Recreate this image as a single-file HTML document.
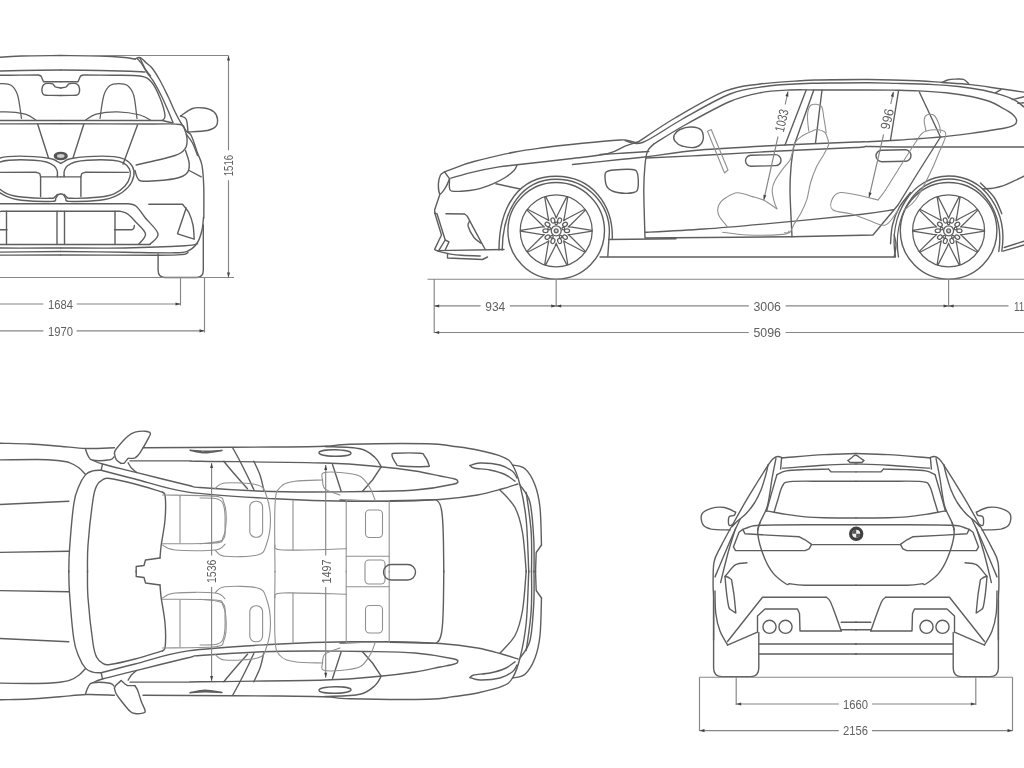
<!DOCTYPE html>
<html><head><meta charset="utf-8"><title>Dimensions</title>
<style>
html,body{margin:0;padding:0;background:#fff}
body{width:1024px;height:768px;overflow:hidden}
svg{display:block;filter:blur(0.4px)}
svg path,svg circle,svg ellipse,svg rect{fill:none;stroke:#5e5e5e;stroke-width:1.4;stroke-linecap:round;stroke-linejoin:round}
svg .w{stroke-width:1.25}
svg .i{stroke:#909090;stroke-width:1.1}
svg .d path{stroke:#868686;stroke-width:1.15;stroke-linecap:butt}
svg .a path{fill:#444;stroke:none}
svg .f{fill:#333;stroke:#333}
svg text{font-family:"Liberation Sans",sans-serif;font-size:13.5px;fill:#606060;text-anchor:middle}
</style></head><body>
<svg width="1024" height="768" viewBox="0 0 1024 768">
<g id="front"><g><path d="M60.8,55.5 C67.3,55.6 89.3,55.7 100,56 C110.7,56.3 119.2,57 125,57.5 C130.8,58 133.3,59 135,59.2"/><path d="M135,59.2 C135.6,59 137.6,57.6 138.8,57.5 C139.9,57.4 140.8,57.9 142,58.8 C143.2,59.6 144.1,61 145.8,62.5 C147.4,64 149.6,65 152,68 C154.4,71 157.2,75.5 160,80.5 C162.8,85.5 166.2,92.8 168.8,98 C171.2,103.2 173,107.7 175,111.8 C177,115.8 178.6,119 180.5,122.2 C182.4,125.5 184.5,128.8 186.2,131 C188,133.2 189.4,131.8 191.2,135.5 C193.1,139.2 195.7,148 197.5,153 C199.3,158 201,159.7 202,165.5 C203,171.3 203.5,179.2 203.8,188 C204,196.8 203.8,213 203.8,218"/><path d="M137.5,58.8 C138.2,59.7 140.4,62 142,64.2 C143.6,66.5 145,69.6 147,72.5 C149,75.4 151.4,77.9 153.8,81.8 C156.1,85.6 159,90.9 161.2,95.5 C163.5,100.1 165.5,104.8 167.5,109.2 C169.5,113.8 172.1,120.3 173,122.5"/><path d="M140,58 C140.8,59.8 143.2,65.5 145,68.5 C146.8,71.5 149.6,74.8 150.5,76"/><path d="M60.8,70 C67.3,70.1 88.5,70.3 100,70.5 C111.5,70.7 122.5,71 130,71.2 C137.5,71.5 142.5,71.9 145,72"/><path d="M60.8,81.8 L78,81.8 L80.5,76 L83,75 C87.9,75 103,75.1 112.5,75.2 C122,75.4 133.5,74.9 140,76 C146.5,77.1 147.9,78.1 151.2,81.8 C154.6,85.4 157.7,92.4 160,98 C162.3,103.6 164.6,111.8 165,115.5 C165.4,119.2 162.9,119.7 162.5,120.5"/><path d="M60.8,120.5 L162.5,120.5 L172.5,123"/><path d="M60.8,123.8 C75.6,123.8 130.1,123.9 150,124 C169.9,124.1 174.2,123.4 180,124.5 C185.8,125.6 183.8,128.2 185,130.5 C186.2,132.8 186.9,135.6 187,138.5 C187.1,141.4 187.5,145.2 185.5,148 C183.5,150.8 183.2,152.7 175,155.5 C166.8,158.3 142.7,163.4 136.2,165"/><path d="M60.8,88 C61.7,87.8 64.9,87.4 66.2,86.8 C67.6,86.1 67.7,84.5 68.8,83.9 C69.8,83.3 71.2,83.4 72.5,83.4 C73.8,83.4 75.2,83.2 76.2,83.7 C77.3,84.2 78.2,84.8 78.8,86.1 C79.3,87.4 79.7,90 79.5,91.5 C79.3,93 79.1,94.2 77.5,94.9 C75.9,95.6 72.8,95.3 70,95.4 C67.2,95.5 62.3,95.5 60.8,95.5"/><path d="M100,118.5 C100.6,114.7 102.1,101 103.8,95.5 C105.4,90 107.5,87.5 110,85.5 C112.5,83.5 115.8,83.5 118.8,83.5 C121.7,83.5 125,83.5 127.5,85.5 C130,87.5 132.2,90 133.8,95.5 C135.3,101 136.5,114.7 137,118.5" class="w"/><path d="M85,120.5 C86.9,119.5 90.8,115.7 96.2,114.2 C101.7,112.8 110.2,111.6 117.5,111.8 C124.8,111.9 134.4,113.5 140,115 C145.6,116.5 149.4,119.6 151.2,120.5" class="w"/><path d="M83.8,124.2 L73,158"/><path d="M137.5,125 L123,164.2"/><path d="M60.9,163.4 C61.5,163.1 62.5,162.3 64.1,161.6 C65.6,160.8 66.4,159.6 70.3,158.8 C74.2,157.9 80.2,156.9 87.5,156.6 C94.8,156.2 107.8,156.1 114.1,156.6 C120.3,157.1 121.9,157.9 125,159.5 C128.1,161.2 131,163.8 132.5,166.6 C134,169.3 134.4,172.6 133.8,175.9 C133.1,179.3 131.5,183.5 128.4,186.9 C125.4,190.3 120.4,194 115.6,196.2 C110.9,198.5 107.7,199.3 100,200.2 C92.3,201 75.3,201.7 69.5,201.4 C63.8,201.1 66.7,199.2 65.6,198.1 C64.6,197 64.1,195.4 63.3,194.7 C62.5,194 61.3,194 60.9,193.9"/><path d="M64.1,175.6 C64.1,174.8 63.8,172.1 64.4,170.5 C64.9,168.8 65.7,167.2 67.5,165.8 C69.3,164.4 71.7,163 75,162 C78.3,161.1 81.2,160.5 87.5,160.2 C93.8,159.8 106.5,159.7 112.5,160.2 C118.5,160.6 120.6,161.4 123.4,162.8 C126.2,164.3 128.3,166.6 129.4,168.9 C130.5,171.2 130.7,173.9 130,176.7 C129.3,179.6 127.7,183.2 125,186.1 C122.3,189 118.2,192.1 114.1,193.9 C109.9,195.7 107.2,196.3 100,197 C92.8,197.8 76.7,198.4 71.1,198.3 C65.5,198.2 67.6,197.2 66.4,196.6 C65.2,195.9 64.5,194.7 64.1,194.4"/><path d="M64.1,175.6 L64.1,176.9"/><path d="M60.9,176.9 L80.9,176.9 L80.9,196.6"/><path d="M80.9,176.9 C81.1,176.3 81.2,174.3 81.9,173.6 C82.6,172.8 84.6,172.6 85.2,172.3 L128.4375,172.34375"/><path d="M135,170.5 C135.3,171.5 136,175 137,176.8 C138,178.5 137.4,180.4 141.2,181 C145.1,181.6 154,181 160,180.5 C166,180 173,179.2 177.5,178 C182,176.8 185,175.4 187,173 C189,170.6 189.5,167.2 189.2,163.5 C189,159.8 186.1,152.7 185.5,150.5"/><path d="M186.2,134.2 C187.3,135.7 190.6,139.5 192.5,143 C194.4,146.5 196.7,153.4 197.5,155.5"/><path d="M189.2,170.5 L201.2,176.8"/><path d="M60.8,203.8 L128.8,203.8 L128.8,203.8 C130,204.2 133.5,204 136.2,206.2 C139,208.5 141.4,212.9 145,217.5 C148.6,222.1 157.2,229.3 158,233.8 C158.8,238.2 151.3,242.5 150,244.2"/><path d="M60.8,211.2 L120,211.2 L120,211.2 C121.2,211.7 125,212.1 127.5,213.8 C130,215.4 132,217.9 135,221.2 C138,224.6 144.9,229.9 145.5,233.8 C146.1,237.6 139.9,242.5 138.8,244.2"/><path d="M64.5,211.2 L64.5,244.5"/><path d="M115,211.2 L115,244.5"/><path d="M60.8,244.5 L150,244.5"/><path d="M114.5,229.8H131Q134.2,229.8 134.4,225.5"/><path d="M60.8,248 C71.5,248 104.3,248.4 125,248 C145.7,247.6 172.9,246.5 185,245.8 C197.1,245 195.4,244.1 197.5,243.8"/><path d="M60.8,251.5 C71.5,251.6 106,252 125,252.2 C144,252.5 164.4,253 175,252.8 C185.6,252.5 185,252.2 188.8,250.5 C192.5,248.8 195.3,245.9 197.5,242.5 C199.7,239.1 201,234.2 202,230 C203,225.8 203.2,219.6 203.5,217.5"/><path d="M60.8,255 C77,255 137.7,255.3 158,255.2 C178.3,255.2 177.5,255 182.5,254.5 C187.5,254 187.1,252.8 188,252.5"/><path d="M148.8,204.2 L182.5,204.2L182.5,204.2 C183.5,205.6 187,209 188.8,212.5 C190.5,216 192.1,220.5 193,225 C193.9,229.5 194,236.9 194.2,239.2L194.2,239.2 L177.5,233.8 L186.2,208"/><path d="M158.1,254 V270 Q158.1,277.5 165,277.5 H196.5 Q203.3,277.5 203.3,270 V225"/></g><g transform="translate(121.5,0) scale(-1,1)"><path d="M60.8,55.5 C67.3,55.6 89.3,55.7 100,56 C110.7,56.3 119.2,57 125,57.5 C130.8,58 133.3,59 135,59.2"/><path d="M135,59.2 C135.6,59 137.6,57.6 138.8,57.5 C139.9,57.4 140.8,57.9 142,58.8 C143.2,59.6 144.1,61 145.8,62.5 C147.4,64 149.6,65 152,68 C154.4,71 157.2,75.5 160,80.5 C162.8,85.5 166.2,92.8 168.8,98 C171.2,103.2 173,107.7 175,111.8 C177,115.8 178.6,119 180.5,122.2 C182.4,125.5 184.5,128.8 186.2,131 C188,133.2 189.4,131.8 191.2,135.5 C193.1,139.2 195.7,148 197.5,153 C199.3,158 201,159.7 202,165.5 C203,171.3 203.5,179.2 203.8,188 C204,196.8 203.8,213 203.8,218"/><path d="M137.5,58.8 C138.2,59.7 140.4,62 142,64.2 C143.6,66.5 145,69.6 147,72.5 C149,75.4 151.4,77.9 153.8,81.8 C156.1,85.6 159,90.9 161.2,95.5 C163.5,100.1 165.5,104.8 167.5,109.2 C169.5,113.8 172.1,120.3 173,122.5"/><path d="M140,58 C140.8,59.8 143.2,65.5 145,68.5 C146.8,71.5 149.6,74.8 150.5,76"/><path d="M60.8,70 C67.3,70.1 88.5,70.3 100,70.5 C111.5,70.7 122.5,71 130,71.2 C137.5,71.5 142.5,71.9 145,72"/><path d="M60.8,81.8 L78,81.8 L80.5,76 L83,75 C87.9,75 103,75.1 112.5,75.2 C122,75.4 133.5,74.9 140,76 C146.5,77.1 147.9,78.1 151.2,81.8 C154.6,85.4 157.7,92.4 160,98 C162.3,103.6 164.6,111.8 165,115.5 C165.4,119.2 162.9,119.7 162.5,120.5"/><path d="M60.8,120.5 L162.5,120.5 L172.5,123"/><path d="M60.8,123.8 C75.6,123.8 130.1,123.9 150,124 C169.9,124.1 174.2,123.4 180,124.5 C185.8,125.6 183.8,128.2 185,130.5 C186.2,132.8 186.9,135.6 187,138.5 C187.1,141.4 187.5,145.2 185.5,148 C183.5,150.8 183.2,152.7 175,155.5 C166.8,158.3 142.7,163.4 136.2,165"/><path d="M60.8,88 C61.7,87.8 64.9,87.4 66.2,86.8 C67.6,86.1 67.7,84.5 68.8,83.9 C69.8,83.3 71.2,83.4 72.5,83.4 C73.8,83.4 75.2,83.2 76.2,83.7 C77.3,84.2 78.2,84.8 78.8,86.1 C79.3,87.4 79.7,90 79.5,91.5 C79.3,93 79.1,94.2 77.5,94.9 C75.9,95.6 72.8,95.3 70,95.4 C67.2,95.5 62.3,95.5 60.8,95.5"/><path d="M100,118.5 C100.6,114.7 102.1,101 103.8,95.5 C105.4,90 107.5,87.5 110,85.5 C112.5,83.5 115.8,83.5 118.8,83.5 C121.7,83.5 125,83.5 127.5,85.5 C130,87.5 132.2,90 133.8,95.5 C135.3,101 136.5,114.7 137,118.5" class="w"/><path d="M85,120.5 C86.9,119.5 90.8,115.7 96.2,114.2 C101.7,112.8 110.2,111.6 117.5,111.8 C124.8,111.9 134.4,113.5 140,115 C145.6,116.5 149.4,119.6 151.2,120.5" class="w"/><path d="M83.8,124.2 L73,158"/><path d="M137.5,125 L123,164.2"/><path d="M60.9,163.4 C61.5,163.1 62.5,162.3 64.1,161.6 C65.6,160.8 66.4,159.6 70.3,158.8 C74.2,157.9 80.2,156.9 87.5,156.6 C94.8,156.2 107.8,156.1 114.1,156.6 C120.3,157.1 121.9,157.9 125,159.5 C128.1,161.2 131,163.8 132.5,166.6 C134,169.3 134.4,172.6 133.8,175.9 C133.1,179.3 131.5,183.5 128.4,186.9 C125.4,190.3 120.4,194 115.6,196.2 C110.9,198.5 107.7,199.3 100,200.2 C92.3,201 75.3,201.7 69.5,201.4 C63.8,201.1 66.7,199.2 65.6,198.1 C64.6,197 64.1,195.4 63.3,194.7 C62.5,194 61.3,194 60.9,193.9"/><path d="M64.1,175.6 C64.1,174.8 63.8,172.1 64.4,170.5 C64.9,168.8 65.7,167.2 67.5,165.8 C69.3,164.4 71.7,163 75,162 C78.3,161.1 81.2,160.5 87.5,160.2 C93.8,159.8 106.5,159.7 112.5,160.2 C118.5,160.6 120.6,161.4 123.4,162.8 C126.2,164.3 128.3,166.6 129.4,168.9 C130.5,171.2 130.7,173.9 130,176.7 C129.3,179.6 127.7,183.2 125,186.1 C122.3,189 118.2,192.1 114.1,193.9 C109.9,195.7 107.2,196.3 100,197 C92.8,197.8 76.7,198.4 71.1,198.3 C65.5,198.2 67.6,197.2 66.4,196.6 C65.2,195.9 64.5,194.7 64.1,194.4"/><path d="M64.1,175.6 L64.1,176.9"/><path d="M60.9,176.9 L80.9,176.9 L80.9,196.6"/><path d="M80.9,176.9 C81.1,176.3 81.2,174.3 81.9,173.6 C82.6,172.8 84.6,172.6 85.2,172.3 L128.4375,172.34375"/><path d="M135,170.5 C135.3,171.5 136,175 137,176.8 C138,178.5 137.4,180.4 141.2,181 C145.1,181.6 154,181 160,180.5 C166,180 173,179.2 177.5,178 C182,176.8 185,175.4 187,173 C189,170.6 189.5,167.2 189.2,163.5 C189,159.8 186.1,152.7 185.5,150.5"/><path d="M186.2,134.2 C187.3,135.7 190.6,139.5 192.5,143 C194.4,146.5 196.7,153.4 197.5,155.5"/><path d="M189.2,170.5 L201.2,176.8"/><path d="M60.8,203.8 L128.8,203.8 L128.8,203.8 C130,204.2 133.5,204 136.2,206.2 C139,208.5 141.4,212.9 145,217.5 C148.6,222.1 157.2,229.3 158,233.8 C158.8,238.2 151.3,242.5 150,244.2"/><path d="M60.8,211.2 L120,211.2 L120,211.2 C121.2,211.7 125,212.1 127.5,213.8 C130,215.4 132,217.9 135,221.2 C138,224.6 144.9,229.9 145.5,233.8 C146.1,237.6 139.9,242.5 138.8,244.2"/><path d="M64.5,211.2 L64.5,244.5"/><path d="M115,211.2 L115,244.5"/><path d="M60.8,244.5 L150,244.5"/><path d="M114.5,229.8H131Q134.2,229.8 134.4,225.5"/><path d="M60.8,248 C71.5,248 104.3,248.4 125,248 C145.7,247.6 172.9,246.5 185,245.8 C197.1,245 195.4,244.1 197.5,243.8"/><path d="M60.8,251.5 C71.5,251.6 106,252 125,252.2 C144,252.5 164.4,253 175,252.8 C185.6,252.5 185,252.2 188.8,250.5 C192.5,248.8 195.3,245.9 197.5,242.5 C199.7,239.1 201,234.2 202,230 C203,225.8 203.2,219.6 203.5,217.5"/><path d="M60.8,255 C77,255 137.7,255.3 158,255.2 C178.3,255.2 177.5,255 182.5,254.5 C187.5,254 187.1,252.8 188,252.5"/><path d="M148.8,204.2 L182.5,204.2L182.5,204.2 C183.5,205.6 187,209 188.8,212.5 C190.5,216 192.1,220.5 193,225 C193.9,229.5 194,236.9 194.2,239.2L194.2,239.2 L177.5,233.8 L186.2,208"/><path d="M158.1,254 V270 Q158.1,277.5 165,277.5 H196.5 Q203.3,277.5 203.3,270 V225"/></g><path d="M180.5,116 C182.5,114.8 188.6,109.8 192.5,108.5 C196.4,107.2 200.2,107.5 203.8,108 C207.3,108.5 211.5,109.9 213.8,111.8 C216,113.6 217.2,116.8 217.5,119.2 C217.8,121.8 217.2,124.9 215.5,126.8 C213.8,128.6 212.1,129.6 207.5,130.5 C202.9,131.4 191.2,131.8 188,132"/><path d="M180.5,116 C181.5,116.5 185,116.6 186.2,119.2 C187.5,121.9 187.7,129.9 188,132"/><ellipse cx="60.75" cy="156" rx="6.4" ry="3.6" style="fill:#555;stroke:#555"/><ellipse cx="60.75" cy="156" rx="3.8" ry="1.9" style="fill:#ccc;stroke:none"/><g class="d"><path d="M100,55.5H228.5M228.5,55.5V150.3M228.5,180.3V277.5M0,277.5H234M180.5,277.5V305.5M204.5,277.5V332.5M0,304H43.4M76.6,304H180M0,330.9H43.4M76.6,330.9H204"/></g><g class="a"><path d="M228.5,55.5l-1.5,5h3zM228.5,277.5l-1.5,-5h3zM180.5,304l-5,-1.6v3.2zM204.5,330.8l-5,-1.6v3.2z"/></g><text x="60.6" y="308.8" textLength="25" lengthAdjust="spacingAndGlyphs">1684</text><text x="60.6" y="335.6" textLength="25" lengthAdjust="spacingAndGlyphs">1970</text><text transform="translate(233.4,165.6) rotate(-90)" textLength="21.3" lengthAdjust="spacingAndGlyphs">1516</text></g>
<g id="side"><path d="M444.6,171.9 C443.9,172.4 441.5,173 440.5,175 C439.5,177 438.5,180.6 438.4,183.8 C438.3,186.9 438.8,193.5 440,194 C441.2,194.5 444.3,189.4 445.9,186.9 C447.5,184.3 449,180.1 449.6,178.8"/><path d="M449.6,178.8 L444.6,171.9"/><path d="M444.6,171.9 C446.4,171.2 450.4,169.5 455.2,167.8 C460.1,166 464,164.1 474,161.5 C484,158.9 503.2,154.3 515,152 C526.8,149.7 533.8,149 545,147.5 C556.2,146 570,144.5 582.5,143.2 C595,142 612.5,140.5 620,140 C627.5,139.5 625,140.1 627.5,140.5 C630,140.9 633.8,142.2 635,142.5"/><path d="M450.9,178.1 C454.7,177.1 466,173.8 474,171.9 C482,170 491.8,168.1 499,166.9 C506.2,165.7 505.3,166.1 517.1,164.8 C529,163.4 554.9,160.6 570,158.8 C585.1,156.9 598.3,155.8 607.5,153.8 C616.7,151.7 620,148.2 625,146.2 C630,144.3 635.4,142.7 637.5,142"/><path d="M449.6,178.8 C449.6,180.1 449.1,184.9 449.4,186.9 C449.6,188.9 449.2,190 451.2,190.8 C453.3,191.5 457.3,191.5 461.5,191.2 C465.7,191 471.3,190.6 476.5,189.4 C481.7,188.1 488,185.7 492.8,183.8 C497.5,181.8 501.7,179.7 505.2,177.5 C508.8,175.3 512,172.7 514,170.6 C516,168.5 516.6,165.9 517.1,165"/><path d="M495.9,183.8 L520.2,189"/><path d="M440,194 L434.6,210 L435,213.1 L437.1,214 L445.2,240 L449,241.9 L445.2,250"/><path d="M434.6,212.5 L441.5,235 L434.6,249.4 L436.5,250.6 L504,249.5"/><path d="M445.2,240 L439,250.2"/><path d="M437.8,251.2 C439.6,251.7 445,253.1 449,253.8 C453,254.4 456.3,254.9 461.5,255.2 C466.7,255.6 477.1,255.9 480.2,256"/><path d="M447.5,254.5 L447.5,258 L482.5,259.5 L487.5,257"/><path d="M445.9,213.8 L464.6,214L464.6,214 C465,214.4 466.3,215.1 467.1,216.2 C468,217.4 466.6,215.1 469.6,220.6 C472.6,226.2 482.6,244.7 485.2,249.5"/><path d="M469.6,221 C469.4,221.9 467.4,223.5 468.1,226.2 C468.9,229 471.9,234.7 474,237.5 C476.1,240.3 479.7,242.2 480.9,243.1"/><path d="M499,250 C499,205 520,176.3 556,176.3 C592,176.3 613.5,205 612.3,239.4"/><path d="M502.2,250 C502.5,208 523,179.2 556,179.2 C589,179.2 609.5,206 609.4,232 L607.8,256.5"/><circle cx="556.2" cy="230.8" r="48.3"/><circle cx="556.2" cy="230.8" r="36" class="w"/><path d="M592,230.3 L592,231.2 L571.8,234.3 L568.1,234.6 L571,237 L585.5,251.4 L584.9,252.2 L566.7,242.8 L563.6,240.9 L564.5,244.5 L567.8,264.6 L566.8,264.9 L557.6,246.7 L556.2,243.2 L554.9,246.7 L545.7,264.9 L544.7,264.6 L548,244.5 L548.9,240.9 L545.8,242.8 L527.6,252.2 L527,251.4 L541.5,237 L544.4,234.6 L540.7,234.3 L520.5,231.2 L520.5,230.3 L540.7,227.2 L544.4,226.9 L541.5,224.5 L527,210.1 L527.6,209.3 L545.8,218.7 L548.9,220.6 L548,217 L544.7,196.9 L545.7,196.6 L554.9,214.8 L556.2,218.2 L557.6,214.8 L566.8,196.6 L567.8,196.9 L564.5,217 L563.6,220.6 L566.7,218.7 L584.9,209.3 L585.5,210.1 L571,224.5 L568.1,226.9 L571.8,227.2Z" class="w"/><ellipse cx="567" cy="230.8" rx="2.6" ry="1.9" transform="rotate(0 567 230.8)" class="w"/><ellipse cx="565" cy="237.1" rx="2.6" ry="1.9" transform="rotate(36 565 237.1)" class="w"/><ellipse cx="559.6" cy="241" rx="2.6" ry="1.9" transform="rotate(72 559.6 241)" class="w"/><ellipse cx="552.9" cy="241" rx="2.6" ry="1.9" transform="rotate(108 552.9 241)" class="w"/><ellipse cx="547.5" cy="237.1" rx="2.6" ry="1.9" transform="rotate(144 547.5 237.1)" class="w"/><ellipse cx="545.5" cy="230.8" rx="2.6" ry="1.9" transform="rotate(180 545.5 230.8)" class="w"/><ellipse cx="547.5" cy="224.4" rx="2.6" ry="1.9" transform="rotate(216 547.5 224.4)" class="w"/><ellipse cx="552.9" cy="220.5" rx="2.6" ry="1.9" transform="rotate(252 552.9 220.5)" class="w"/><ellipse cx="559.6" cy="220.5" rx="2.6" ry="1.9" transform="rotate(288 559.6 220.5)" class="w"/><ellipse cx="565" cy="224.4" rx="2.6" ry="1.9" transform="rotate(324 565 224.4)" class="w"/><circle cx="556.2" cy="230.8" r="5" class="w"/><circle cx="556.2" cy="230.8" r="2.6" style="fill:#666;stroke:none"/><circle cx="556.2" cy="230.8" r="1.2" style="fill:#ddd;stroke:none"/><circle cx="556.2" cy="223.3" r="1.3" class="w"/><circle cx="563.3" cy="228.5" r="1.3" class="w"/><circle cx="560.6" cy="236.7" r="1.3" class="w"/><circle cx="551.9" cy="236.7" r="1.3" class="w"/><circle cx="549.2" cy="228.5" r="1.3" class="w"/><circle cx="948.6" cy="230.8" r="48.3"/><circle cx="948.6" cy="230.8" r="36" class="w"/><path d="M984.4,230.3 L984.4,231.2 L964.2,234.3 L960.5,234.6 L963.3,237 L977.9,251.4 L977.3,252.2 L959.1,242.8 L955.9,240.9 L956.8,244.5 L960.1,264.6 L959.2,264.9 L950,246.7 L948.6,243.2 L947.2,246.7 L938,264.9 L937.1,264.6 L940.4,244.5 L941.3,240.9 L938.1,242.8 L919.9,252.2 L919.3,251.4 L933.9,237 L936.7,234.6 L933,234.3 L912.8,231.2 L912.8,230.3 L933,227.2 L936.7,226.9 L933.9,224.5 L919.3,210.1 L919.9,209.3 L938.1,218.7 L941.3,220.6 L940.4,217 L937.1,196.9 L938,196.6 L947.2,214.8 L948.6,218.2 L950,214.8 L959.2,196.6 L960.1,196.9 L956.8,217 L955.9,220.6 L959.1,218.7 L977.3,209.3 L977.9,210.1 L963.3,224.5 L960.5,226.9 L964.2,227.2Z" class="w"/><ellipse cx="959.4" cy="230.8" rx="2.6" ry="1.9" transform="rotate(0 959.4 230.8)" class="w"/><ellipse cx="957.3" cy="237.1" rx="2.6" ry="1.9" transform="rotate(36 957.3 237.1)" class="w"/><ellipse cx="951.9" cy="241" rx="2.6" ry="1.9" transform="rotate(72 951.9 241)" class="w"/><ellipse cx="945.3" cy="241" rx="2.6" ry="1.9" transform="rotate(108 945.3 241)" class="w"/><ellipse cx="939.9" cy="237.1" rx="2.6" ry="1.9" transform="rotate(144 939.9 237.1)" class="w"/><ellipse cx="937.8" cy="230.8" rx="2.6" ry="1.9" transform="rotate(180 937.8 230.8)" class="w"/><ellipse cx="939.9" cy="224.4" rx="2.6" ry="1.9" transform="rotate(216 939.9 224.4)" class="w"/><ellipse cx="945.3" cy="220.5" rx="2.6" ry="1.9" transform="rotate(252 945.3 220.5)" class="w"/><ellipse cx="951.9" cy="220.5" rx="2.6" ry="1.9" transform="rotate(288 951.9 220.5)" class="w"/><ellipse cx="957.3" cy="224.4" rx="2.6" ry="1.9" transform="rotate(324 957.3 224.4)" class="w"/><circle cx="948.6" cy="230.8" r="5" class="w"/><circle cx="948.6" cy="230.8" r="2.6" style="fill:#666;stroke:none"/><circle cx="948.6" cy="230.8" r="1.2" style="fill:#ddd;stroke:none"/><circle cx="948.6" cy="223.3" r="1.3" class="w"/><circle cx="955.6" cy="228.5" r="1.3" class="w"/><circle cx="952.9" cy="236.7" r="1.3" class="w"/><circle cx="944.3" cy="236.7" r="1.3" class="w"/><circle cx="941.6" cy="228.5" r="1.3" class="w"/><path d="M895.5,257 C888,215 912,176 948.5,176 C985,176 1008,212 1001.8,251"/><path d="M898.5,257 C892,218 914,179 948.5,179 C983,179 1004.5,214 998.8,251.5"/><path d="M890.5,243.8 C890.8,240.6 891,231 892.5,225 C894,219 896.2,212.9 899.2,207.5 C902.2,202.1 908.6,195 910.5,192.5"/><path d="M980.5,183 C982.8,185.4 990.7,192.4 994.2,197.5 C997.8,202.6 1000.5,211 1001.8,213.8"/><path d="M637.5,142.5 C643.8,138.4 660.4,126.5 675,118 C689.6,109.5 710.8,96.9 725,91.2 C739.2,85.6 747.5,85.8 760,84 C772.5,82.2 790.3,81.4 800,80.8 C809.7,80.1 806.7,80.2 818,80 C829.3,79.8 851.3,79.4 868,79.5 C884.7,79.6 905.5,80.2 918,80.8 C930.5,81.2 934.2,81.9 943,82.5 C951.8,83.1 961.1,83.5 971,84.6 C980.9,85.7 993.4,87.8 1002.2,89 C1011.1,90.2 1020.4,91.6 1024,92.1"/><path d="M625,140.5 C627.9,140.8 632.9,146.1 642.5,142.5 C652.1,138.9 667.9,127.1 682.5,119 C697.1,110.9 716.2,99.4 730,94 C743.8,88.6 753.3,88.2 765,86.5 C776.7,84.8 791.2,84.3 800,83.8 C808.8,83.2 806.7,83.4 818,83.2 C829.3,83.1 855,82.7 868,82.8 C881,82.8 885.1,83.1 896,83.4 C906.9,83.7 923.1,84.1 933.5,84.6 C943.9,85.1 950.2,85.6 958.5,86.5 C966.8,87.4 976.2,88.8 983.5,90.2 C990.8,91.7 997,93.6 1002.2,95.2 C1007.5,96.9 1011.1,98.3 1014.8,100.2 C1018.4,102.2 1022.5,105.9 1024,107"/><path d="M942.2,82.5 C943.3,82 946.3,80.3 948.5,79.8 C950.7,79.2 953,79.2 955.5,79.1 C958,79.1 961.3,78.7 963.5,79.4 C965.7,80.1 967.7,82.7 968.5,83.4"/><path d="M995.4,92.8 L1001,89.6"/><path d="M1012.2,99.6 L1024,96.8"/><path d="M1017.9,103.4 L1024,102.8"/><path d="M653.8,144 C659,140.8 672.3,132.1 685,125 C697.7,117.9 717.5,106.9 730,101.5 C742.5,96.1 750,94.7 760,92.8 C770,90.8 780.3,90.5 790,90 C799.7,89.5 805,90 818,90 C831,90 855,90 868,90 C881,90 887.6,90.1 896,90.2 C904.4,90.4 910.2,90.5 918.5,90.9 C926.8,91.3 937.2,91.8 946,92.8 C954.8,93.7 963.7,95 971,96.5 C978.3,98 984.5,99.6 989.8,101.5 C995,103.4 998.5,105.7 1002.2,107.8 C1006,109.8 1009.9,111.9 1012.2,114 C1014.6,116.1 1016.3,118.4 1016.6,120.2 C1016.9,122.1 1015.9,123.8 1014.1,125 C1012.4,126.2 1010.1,126.8 1006,127.8 C1001.9,128.7 995.6,129.6 989.8,130.5 C983.9,131.4 979.2,132.3 971,133.4 C962.8,134.5 945.6,136.4 940.5,137"/><path d="M919.2,91.8 L940.5,137"/><path d="M572.5,164.5 C580.4,163.7 607.9,160.8 620,159.5 C632.1,158.2 631.7,158.6 645,157 C658.3,155.4 678.3,151.9 700,150 C721.7,148.1 749,146.8 775,145.5 C801,144.2 840.5,142.6 856,142 C871.5,141.4 861.3,142 868,141.8 C874.7,141.5 887.7,140.8 896,140.2 C904.3,139.8 910.6,139.3 918,138.8 C925.4,138.2 936.8,137.3 940.5,137"/><path d="M646.2,158 C655.2,157.6 678.5,156.6 700,155.5 C721.5,154.4 749,152.6 775,151.2 C801,149.9 840.5,148.3 856,147.5 C871.5,146.7 859.8,146.6 868,146.5 C876.2,146.4 888.8,146.9 905.5,147 C922.2,147.1 948.2,147 968,147 C987.8,147 1014.7,147 1024,147"/><path d="M600,154.5 C604.2,154.2 616.9,153.5 625,153 C633.1,152.5 644.8,151.8 648.8,151.5"/><path d="M653.8,144 C652.7,145.2 649,147.8 647.5,151.2 C646,154.8 645.6,158.5 645,165 C644.4,171.5 643.8,177.8 643.8,190 C643.8,202.2 644.8,230 645,238"/><path d="M645.5,232.3 C655.2,231.8 683.6,230.4 704,229 C724.4,227.6 742.7,225.9 768,223.6 C793.3,221.3 835.1,217.3 856,215 C876.9,212.7 887.2,210.7 893.5,209.8"/><path d="M645.5,238 L792,236.8 L873,235 L898,205 L918,172.5 L940.5,137"/><path d="M608.8,239.5 L676,238.8"/><path d="M600,257 L676,257 L894.2,257"/><path d="M894.2,257 C894.5,255 896,248.7 896,245 C896,241.3 894.5,236.7 894.2,235"/><path d="M806.2,90 L785,145"/><path d="M813.8,90 L793.8,146.2"/><path d="M822,90 L815.5,143"/><path d="M793.8,146.2 C793.3,149.4 791.9,157.7 791.2,165 C790.6,172.3 789.9,178 790,190 C790.1,202 791.7,229 792,236.8"/><path d="M898.5,91 L890.5,140"/><path d="M674.2,135 C675.1,133 677.2,130.8 680,129.5 C682.8,128.2 687.7,126.9 691.2,127 C694.8,127.1 699.3,127.8 701.2,130 C703.2,132.2 703.8,137.2 703,140 C702.2,142.8 699.7,146 696.2,147 C692.8,148 686,147.2 682.5,146.2 C679,145.3 676.4,143.1 675,141.2 C673.6,139.4 673.4,137 674.2,135Z"/><rect x="745.5" y="155" width="35.5" height="11" rx="5.5" transform="rotate(-1.5 763 160)"/><rect x="876" y="150" width="35" height="11.5" rx="5.7" transform="rotate(-1 893 156)"/><path d="M605,177.5 C604.8,174.9 604.8,173.2 606.2,172 C607.7,170.8 609.4,170.4 613.8,170 C618.1,169.6 628.5,168.9 632.5,169.5 C636.5,170.1 636.6,170.8 637.5,173.8 C638.4,176.8 638.6,184.4 638,187.5 C637.4,190.6 637.2,191.7 633.8,192.5 C630.3,193.3 621.9,193.3 617.5,192.5 C613.1,191.7 609.6,190 607.5,187.5 C605.4,185 605.2,180.1 605,177.5Z"/><path d="M983.5,189 C985.2,188.8 990.2,188.7 993.5,188.1 C996.8,187.5 1000.2,186.7 1003.5,185.6 C1006.8,184.5 1010.1,182.8 1013.5,181.2 C1016.9,179.7 1022.2,177.1 1024,176.2"/><path d="M1003,251.2 L1024,245"/><path d="M1004.2,247.5 L1024,241.2"/><path d="M707.5,131.2 L711.2,129.5 L728,170 L724.5,173Z" class="i"/><path d="M776.9,208.8 C774.7,207.3 767.8,202.3 763.8,200.3 C759.7,198.3 756.9,197.8 752.5,196.6 C748.1,195.3 741.9,192.7 737.5,192.8 C733.1,193 729.4,195.5 726.2,197.5 C723.1,199.5 720.1,202.2 718.8,205 C717.4,207.8 717.6,211.6 718.4,214.4 C719.2,217.2 721.8,219.7 723.4,221.9 C725.1,224.1 727.3,226.6 728.1,227.5" class="i"/><path d="M722.5,232.2 C726.6,232.7 736.9,234.6 746.9,235 C756.9,235.4 775.5,235.1 782.5,234.4 C789.5,233.8 788,231.8 789.1,231.2" class="i"/><path d="M776.9,208.8 C776.4,207.5 774.8,204.4 774.1,201.2 C773.3,198.1 772,193.4 772.2,190 C772.3,186.6 773.3,184.1 775,180.6 C776.7,177.2 780,172.8 782.5,169.4 C785,165.9 788.3,163.1 790,160 C791.7,156.9 792,153.4 792.8,150.6 C793.6,147.8 793.3,145.5 794.7,143.1 C796.1,140.8 798.3,138.6 801.2,136.6 C804.2,134.5 809.8,132.1 812.5,130.9 C815.2,129.8 815.4,129.2 817.5,129.5 C819.6,129.8 823.2,130.8 825,132.5 C826.8,134.2 827.4,137.9 828,140 C828.6,142.1 829.3,142.6 828.6,145 C827.9,147.4 825.8,150.6 823.8,154.4 C821.7,158.1 818.4,162.8 816.2,167.5 C814.1,172.2 812.2,177.2 810.6,182.5 C809.1,187.8 808.4,194.4 806.9,199.4 C805.3,204.4 803.4,208.3 801.2,212.5 C799.1,216.7 795.6,221.4 793.8,224.7 C791.9,228 791.6,230.8 790,232.2 C788.4,233.5 785.3,232.7 784.4,232.8" class="i"/><path d="M808.8,131.2 C808.5,128.5 807.1,119.4 807.5,115 C807.9,110.6 809,106.5 811.2,105 C813.5,103.5 819.2,104.2 821.2,106.2 C823.3,108.3 822.9,113.1 823.8,117.5 C824.6,121.9 825.8,130 826.2,132.5" class="i"/><path d="M878,200 C875.5,199.4 869.2,197.5 863,196.2 C856.8,195 845.7,191.9 840.5,192.5 C835.3,193.1 833,197.1 831.8,200 C830.5,202.9 829.9,207.7 833,210 C836.1,212.3 844.7,212.1 850.5,213.8 C856.3,215.4 862.2,218.1 868,220 C873.8,221.9 880.5,226.7 885.5,225 C890.5,223.3 895.9,212.5 898,210" class="i"/><path d="M878,200 C879.2,198.3 882.2,195 885.5,190 C888.8,185 893,177.9 898,170 C903,162.1 910.9,149 915.5,142.5 C920.1,136 920.5,132.9 925.5,131.2 C930.5,129.6 943.4,128.5 945.5,132.5 C947.6,136.5 940.9,147.5 938,155 C935.1,162.5 931.8,170 928,177.5 C924.2,185 919.5,194.6 915.5,200 C911.5,205.4 906.1,208.3 904.2,210" class="i"/><path d="M926,131.2 C925.7,129.4 924.1,122.7 924.2,120 C924.4,117.3 925.1,115.8 926.8,115 C928.4,114.2 932.2,113.8 934.2,115.5 C936.3,117.2 938.2,122.2 939.2,125 C940.3,127.8 940.3,131.2 940.5,132.5" class="i"/><g class="d"><path d="M788,91.5L785.2,104.5M778,136.5L763.8,200M893.4,91.8L890.8,104M883.6,134.5L869,197.5"/></g><g class="a"><path d="M788,91.5l-2.6,4.6 3,0.7zM763.8,200l2.6,-4.6 -3,-0.7zM893.4,91.8l-2.7,4.5 3,0.8zM869,197.5l2.7,-4.5 -3,-0.8z"/></g><text transform="translate(786.2,121.6) rotate(-77.5)" textLength="22.6" lengthAdjust="spacingAndGlyphs">1033</text><text transform="translate(891.7,120.1) rotate(-77)" textLength="20.7" lengthAdjust="spacingAndGlyphs">996</text><g class="d"><path d="M427.5,279.2H1024M434.2,279.2V333M556.2,279.2V306.9M948.6,279.2V306.9M434.2,305.9H480.6M509.8,305.9H556M556.2,305.9H748.8M785.6,305.9H948.5M948.6,305.9H1008.5M434.2,332.5H748.8M785.6,332.5H1024"/></g><g class="a"><path d="M434.2,305.9l5,-1.5v3zM556.2,305.9l-5,-1.5v3zM556.2,305.9l5,-1.5v3zM948.6,305.9l-5,-1.5v3zM948.6,305.9l5,-1.5v3zM434.2,332.5l5,-1.6v3.2z"/></g><text x="495.25" y="310.6" textLength="20" lengthAdjust="spacingAndGlyphs">934</text><text x="767.25" y="310.6" textLength="27.5" lengthAdjust="spacingAndGlyphs">3006</text><text x="767.25" y="337.3" textLength="27.5" lengthAdjust="spacingAndGlyphs">5096</text><text x="1014" y="310.6" style="text-anchor:start" textLength="21.3" lengthAdjust="spacingAndGlyphs">1156</text></g>
<g id="top"><g><path d="M-5,443 C-4.2,443 -5.8,443.1 0,443.2 C5.8,443.4 20,443.5 30,444 C40,444.5 50.6,445.5 60,446.2 C69.4,447 77.2,448.2 86.2,448.5 C95.3,448.8 109.7,447.9 114.4,447.8"/><path d="M143,447.8 C150.5,447.7 166,447.6 188,447.5 C210,447.4 252.2,447.2 275,447 C297.8,446.8 312.5,446.7 325,446.2 C337.5,445.8 332.9,444.7 350,444.2 C367.1,443.8 410.4,443.4 427.5,443.8 C444.6,444.1 444.2,445.2 452.5,446.2 C460.8,447.3 469.2,448.2 477.5,450 C485.8,451.8 496.7,454.2 502.5,456.8 C508.3,459.2 509.6,460.3 512.5,465 C515.4,469.7 517.7,475.8 520,485 C522.3,494.2 524.8,505.5 526.2,520 C527.7,534.5 528.3,563.3 528.8,572"/><path d="M325,446.5 C330.8,446.9 351.7,446.9 360,448.8 C368.3,450.6 371.5,454.5 375,457.5 C378.5,460.5 380.2,465.2 381.2,466.8"/><path d="M381.2,466.8 L372.5,480 L362.5,491.2"/><path d="M85.6,449.4 C86,450.5 86.9,454.1 88.1,455.9 C89.3,457.7 89.1,459.6 92.8,460.2 C96.4,460.9 106.5,460.3 110,459.8 C113.5,459.2 113.3,457.2 114,456.8"/><path d="M128.1,462.8 C128.6,463.6 129.9,466.1 131.2,467.8 C132.6,469.4 135.6,471.7 136.5,472.5"/><path d="M130,460.9 C139.7,460.9 176.3,460.8 188,460.9 C199.7,460.9 177.2,460.9 200,461.2 C222.8,461.6 295,462.1 325,463 C355,463.9 365,465.4 380,466.8 C395,468.1 405,469.5 415,471 C425,472.5 433.5,474.7 440,476 C446.5,477.3 450.8,478 453.8,478.8 C456.7,479.5 457.6,479.8 457.5,480.8 C457.4,481.7 460.1,482.7 453,484.2 C445.9,485.8 429.7,488.8 415,490 C400.3,491.2 382.1,491.2 365,491.5 C347.9,491.8 329.6,492 312.5,492 C295.4,492 281.2,492 262.5,491.2 C243.8,490.5 212.4,488.5 200,487.5 C187.6,486.5 198.8,487.8 188,485.2 C177.2,482.7 149.2,475.7 135,472.1 C120.8,468.6 109.5,466 102.5,464 C95.5,462 94.4,460.9 92.8,460.2"/><path d="M102.5,464.2 L101.2,470.2"/><path d="M101.2,470.2 C106.9,471.7 120.5,475.4 135,479 C149.5,482.6 164.7,488.8 188,492.1 C211.3,495.4 248,497.2 275,498.8 C302,500.3 325,501 350,501.2 C375,501.5 410.5,500.1 425,500 C439.5,499.9 434.2,498.8 437,500.5 C439.8,502.2 440.5,504.7 441.5,510 C442.5,515.3 442.9,522.2 443.2,532.5 C443.6,542.8 443.7,565.4 443.8,572"/><path d="M-5,460 C2.1,459.9 27.1,459.4 37.5,459.5 C47.9,459.6 52.1,460 57.5,460.5 C62.9,461 66.5,461.5 70,462.8 C73.5,464 76.1,465.8 78.8,467.8 C81.4,469.7 84.5,473.5 85.6,474.6"/><path d="M101.2,470.2 C99.8,470.4 95.4,470.1 92.8,470.9 C90.1,471.6 88,472 85.6,474.6 C83.3,477.2 80.7,481.6 78.8,486.5 C76.8,491.4 75.3,493.4 73.8,504 C72.2,514.6 70.3,538.7 69.5,550 C68.7,561.3 68.9,568.3 68.8,572"/><path d="M162.5,492.1 C157.9,490.8 143.8,486.3 135,484 C126.2,481.7 115.4,479.2 110,478.5 C104.6,477.8 104.9,478.5 102.8,479.6 C100.6,480.8 98.6,482 97,485.2 C95.4,488.5 94.6,489 93.1,499 C91.6,509 88.9,532.8 88,545 C87.1,557.2 87.6,567.5 87.5,572"/><path d="M162.5,492.1 C163,492.9 164.8,491.9 165.2,496.5 C165.7,501.1 165.7,511.9 165,520 C164.3,528.1 162.1,538.7 161.2,545 C160.4,551.3 160.2,555.8 160,558"/><path d="M160,558 L145.5,560 L144,565.5 L136.2,566.5 L136.2,572"/><path d="M-5,504.8 L68.8,501.2"/><path d="M-5,552.5 L68.8,551.2"/><path d="M223.8,461.2 C226,464 233.5,472.9 237.5,477.5 C241.5,482.1 245.8,486.9 247.5,488.8"/><path d="M232.5,447.5 C233.8,449.8 237.3,456 240,461.2 C242.7,466.5 246.5,474 248.8,478.8 C251,483.5 252.9,487.7 253.8,489.5"/><path d="M253.8,461.2 C254.8,463.5 258.3,470.2 260,475 C261.7,479.8 263.1,487.5 263.8,490"/><path d="M332.5,464.5 L341.2,491.2"/><path d="M190,450.2 C192.5,450.4 199.7,451.2 205,451.2 C210.3,451.3 219.2,450.6 222,450.5L222,450.5 C219.2,450.9 210.3,452.8 205,452.8 C199.7,452.7 192.5,450.7 190,450.2Z"/><ellipse cx="335" cy="453" rx="16" ry="3.3" transform="rotate(1 335 453)"/><path d="M340,500 C348.3,500.2 373.3,501.3 390,501.2 C406.7,501.2 425.4,500.5 440,499.5 C454.6,498.5 467.1,496.8 477.5,495 C487.9,493.2 495.8,490.6 502.5,488.8 C509.2,486.9 515.4,484.8 518,484"/><path d="M500,490 C502.5,492.9 511.2,500.4 515,507.5 C518.8,514.6 520.6,521.8 522.5,532.5 C524.4,543.2 525.6,565.4 526.2,572"/><path d="M512.5,465 C514.6,465.6 521.2,465.4 525,468.8 C528.8,472.1 532.5,478.5 535,485 C537.5,491.5 538.9,497.5 540,507.5 C541.1,517.5 541.2,538.8 541.5,545"/><path d="M541.5,545 L536.2,552.5 L535.5,572"/><path d="M520,485 C521.7,487.9 527.7,493.3 530,502.5 C532.3,511.7 533.1,528.4 533.8,540 C534.4,551.6 534,566.7 534,572"/><path d="M526.2,492.5 C527.1,499.2 530.4,519.2 531.2,532.5 C532.1,545.8 531.5,565.4 531.5,572"/><path d="M470,465.5 C471.7,465.1 475,463.1 480,463 C485,462.9 494.6,463.6 500,465 C505.4,466.4 509.7,469.1 512.5,471.2 C515.3,473.4 516.2,476.9 517,478"/><path d="M470,465.5 C470.6,465.9 470.4,467.2 473.8,468 C477.1,468.8 484.8,468.9 490,470 C495.2,471.1 500.8,472.6 505,474.5 C509.2,476.4 513.3,480.1 515,481.2"/><path d="M162.5,495 C171.2,495.2 204.8,495 215,496.2 C225.2,497.5 221.9,498.5 223.8,502.5 C225.6,506.5 226.4,514.2 226.2,520 C226.1,525.8 224.9,533.7 223,537.5 C221.1,541.3 225.1,542 215,543 C204.9,544 171.2,543.6 162.5,543.8" class="i"/><path d="M180,496.2 L180,543" class="i"/><path d="M162.5,545 C164.6,545.8 166.2,549.2 175,550 C183.8,550.8 206.7,551 215,550 C223.3,549 223.3,545.2 225,544.2" class="i"/><path d="M215,488.8 C216.7,487.8 217.9,483.6 225,483 C232.1,482.4 250.6,483 257.5,485 C264.4,487 264.1,489.2 266.2,495 C268.4,500.8 270.5,511.7 270.5,520 C270.5,528.3 268.4,539.2 266.2,545 C264.1,550.8 264.4,553.1 257.5,555 C250.6,556.9 232,557 225,556.2 C218,555.5 217.1,551.5 215.5,550.5" class="i"/><path d="M200,498 C202.9,498.2 213.5,497.6 217.5,499 C221.5,500.4 222.5,501.9 223.8,506.2 C225,510.6 225.2,519.4 225,525 C224.8,530.6 226.7,536.9 222.5,540 C218.3,543.1 203.8,543.1 200,543.8" class="i"/><rect x="249.8" y="501.2" width="12.8" height="36" rx="5.8" class="i"/><path d="M275,572 C275,560.8 274.2,519.1 275,505 C275.8,490.9 276.7,491.5 280,487.5 C283.3,483.5 287.9,482.5 295,481.2 C302.1,480 317.9,480.2 322.5,480" class="i"/><path d="M322.5,480 C322.6,478.8 320.3,474.2 323.2,473 C326.2,471.8 333.9,472 340,472.5 C346.1,473 355,473.7 360,476.2 C365,478.8 367.5,484 370,488 C372.5,492 374.2,498 375,500" class="i"/><path d="M322.5,480 C322.9,481.5 322.1,486.2 325,488.8 C327.9,491.2 337.5,494 340,495" class="i"/><path d="M293,500 L293,550" class="i"/><path d="M275,545 C276.2,545.8 270.6,549.4 282.5,550 C294.4,550.6 335.6,549 346.2,548.8" class="i"/><path d="M346.2,500 L346.2,572" class="i"/><path d="M346.2,500.5 L389.2,500.5 L389.2,572" class="i"/><path d="M346.2,556.2 L389.2,556.2" class="i"/><rect x="365.5" y="510" width="17" height="27.5" rx="4" class="i"/><path d="M114.4,453.4 C114.7,452.6 114.1,451.8 116.2,449 C118.4,446.2 124.4,439.3 127.5,436.5 C130.6,433.7 132.1,433.1 135,432.2 C137.9,431.4 142.5,431.1 145,431.2 C147.5,431.4 149.6,432 150.2,433 C150.9,434 150.7,433.8 149,437.1 C147.3,440.4 142.3,449.3 140,452.8 C137.7,456.2 137,456.8 135,457.8 C133,458.7 129.3,458.3 128.1,458.4"/><path d="M128.1,458.4 L124,463.4 L121,463.4"/><path d="M121,463.4 C120.2,462.8 117.4,461.3 116.2,459.6 C115.1,458 114.7,454.4 114.4,453.4"/></g><g transform="translate(0,1143) scale(1,-1)"><path d="M-5,443 C-4.2,443 -5.8,443.1 0,443.2 C5.8,443.4 20,443.5 30,444 C40,444.5 50.6,445.5 60,446.2 C69.4,447 77.2,448.2 86.2,448.5 C95.3,448.8 109.7,447.9 114.4,447.8"/><path d="M143,447.8 C150.5,447.7 166,447.6 188,447.5 C210,447.4 252.2,447.2 275,447 C297.8,446.8 312.5,446.7 325,446.2 C337.5,445.8 332.9,444.7 350,444.2 C367.1,443.8 410.4,443.4 427.5,443.8 C444.6,444.1 444.2,445.2 452.5,446.2 C460.8,447.3 469.2,448.2 477.5,450 C485.8,451.8 496.7,454.2 502.5,456.8 C508.3,459.2 509.6,460.3 512.5,465 C515.4,469.7 517.7,475.8 520,485 C522.3,494.2 524.8,505.5 526.2,520 C527.7,534.5 528.3,563.3 528.8,572"/><path d="M325,446.5 C330.8,446.9 351.7,446.9 360,448.8 C368.3,450.6 371.5,454.5 375,457.5 C378.5,460.5 380.2,465.2 381.2,466.8"/><path d="M381.2,466.8 L372.5,480 L362.5,491.2"/><path d="M85.6,449.4 C86,450.5 86.9,454.1 88.1,455.9 C89.3,457.7 89.1,459.6 92.8,460.2 C96.4,460.9 106.5,460.3 110,459.8 C113.5,459.2 113.3,457.2 114,456.8"/><path d="M128.1,462.8 C128.6,463.6 129.9,466.1 131.2,467.8 C132.6,469.4 135.6,471.7 136.5,472.5"/><path d="M130,460.9 C139.7,460.9 176.3,460.8 188,460.9 C199.7,460.9 177.2,460.9 200,461.2 C222.8,461.6 295,462.1 325,463 C355,463.9 365,465.4 380,466.8 C395,468.1 405,469.5 415,471 C425,472.5 433.5,474.7 440,476 C446.5,477.3 450.8,478 453.8,478.8 C456.7,479.5 457.6,479.8 457.5,480.8 C457.4,481.7 460.1,482.7 453,484.2 C445.9,485.8 429.7,488.8 415,490 C400.3,491.2 382.1,491.2 365,491.5 C347.9,491.8 329.6,492 312.5,492 C295.4,492 281.2,492 262.5,491.2 C243.8,490.5 212.4,488.5 200,487.5 C187.6,486.5 198.8,487.8 188,485.2 C177.2,482.7 149.2,475.7 135,472.1 C120.8,468.6 109.5,466 102.5,464 C95.5,462 94.4,460.9 92.8,460.2"/><path d="M102.5,464.2 L101.2,470.2"/><path d="M101.2,470.2 C106.9,471.7 120.5,475.4 135,479 C149.5,482.6 164.7,488.8 188,492.1 C211.3,495.4 248,497.2 275,498.8 C302,500.3 325,501 350,501.2 C375,501.5 410.5,500.1 425,500 C439.5,499.9 434.2,498.8 437,500.5 C439.8,502.2 440.5,504.7 441.5,510 C442.5,515.3 442.9,522.2 443.2,532.5 C443.6,542.8 443.7,565.4 443.8,572"/><path d="M-5,460 C2.1,459.9 27.1,459.4 37.5,459.5 C47.9,459.6 52.1,460 57.5,460.5 C62.9,461 66.5,461.5 70,462.8 C73.5,464 76.1,465.8 78.8,467.8 C81.4,469.7 84.5,473.5 85.6,474.6"/><path d="M101.2,470.2 C99.8,470.4 95.4,470.1 92.8,470.9 C90.1,471.6 88,472 85.6,474.6 C83.3,477.2 80.7,481.6 78.8,486.5 C76.8,491.4 75.3,493.4 73.8,504 C72.2,514.6 70.3,538.7 69.5,550 C68.7,561.3 68.9,568.3 68.8,572"/><path d="M162.5,492.1 C157.9,490.8 143.8,486.3 135,484 C126.2,481.7 115.4,479.2 110,478.5 C104.6,477.8 104.9,478.5 102.8,479.6 C100.6,480.8 98.6,482 97,485.2 C95.4,488.5 94.6,489 93.1,499 C91.6,509 88.9,532.8 88,545 C87.1,557.2 87.6,567.5 87.5,572"/><path d="M162.5,492.1 C163,492.9 164.8,491.9 165.2,496.5 C165.7,501.1 165.7,511.9 165,520 C164.3,528.1 162.1,538.7 161.2,545 C160.4,551.3 160.2,555.8 160,558"/><path d="M160,558 L145.5,560 L144,565.5 L136.2,566.5 L136.2,572"/><path d="M-5,504.8 L68.8,501.2"/><path d="M-5,552.5 L68.8,551.2"/><path d="M223.8,461.2 C226,464 233.5,472.9 237.5,477.5 C241.5,482.1 245.8,486.9 247.5,488.8"/><path d="M232.5,447.5 C233.8,449.8 237.3,456 240,461.2 C242.7,466.5 246.5,474 248.8,478.8 C251,483.5 252.9,487.7 253.8,489.5"/><path d="M253.8,461.2 C254.8,463.5 258.3,470.2 260,475 C261.7,479.8 263.1,487.5 263.8,490"/><path d="M332.5,464.5 L341.2,491.2"/><path d="M190,450.2 C192.5,450.4 199.7,451.2 205,451.2 C210.3,451.3 219.2,450.6 222,450.5L222,450.5 C219.2,450.9 210.3,452.8 205,452.8 C199.7,452.7 192.5,450.7 190,450.2Z"/><ellipse cx="335" cy="453" rx="16" ry="3.3" transform="rotate(1 335 453)"/><path d="M340,500 C348.3,500.2 373.3,501.3 390,501.2 C406.7,501.2 425.4,500.5 440,499.5 C454.6,498.5 467.1,496.8 477.5,495 C487.9,493.2 495.8,490.6 502.5,488.8 C509.2,486.9 515.4,484.8 518,484"/><path d="M500,490 C502.5,492.9 511.2,500.4 515,507.5 C518.8,514.6 520.6,521.8 522.5,532.5 C524.4,543.2 525.6,565.4 526.2,572"/><path d="M512.5,465 C514.6,465.6 521.2,465.4 525,468.8 C528.8,472.1 532.5,478.5 535,485 C537.5,491.5 538.9,497.5 540,507.5 C541.1,517.5 541.2,538.8 541.5,545"/><path d="M541.5,545 L536.2,552.5 L535.5,572"/><path d="M520,485 C521.7,487.9 527.7,493.3 530,502.5 C532.3,511.7 533.1,528.4 533.8,540 C534.4,551.6 534,566.7 534,572"/><path d="M526.2,492.5 C527.1,499.2 530.4,519.2 531.2,532.5 C532.1,545.8 531.5,565.4 531.5,572"/><path d="M470,465.5 C471.7,465.1 475,463.1 480,463 C485,462.9 494.6,463.6 500,465 C505.4,466.4 509.7,469.1 512.5,471.2 C515.3,473.4 516.2,476.9 517,478"/><path d="M470,465.5 C470.6,465.9 470.4,467.2 473.8,468 C477.1,468.8 484.8,468.9 490,470 C495.2,471.1 500.8,472.6 505,474.5 C509.2,476.4 513.3,480.1 515,481.2"/><path d="M162.5,495 C171.2,495.2 204.8,495 215,496.2 C225.2,497.5 221.9,498.5 223.8,502.5 C225.6,506.5 226.4,514.2 226.2,520 C226.1,525.8 224.9,533.7 223,537.5 C221.1,541.3 225.1,542 215,543 C204.9,544 171.2,543.6 162.5,543.8" class="i"/><path d="M180,496.2 L180,543" class="i"/><path d="M162.5,545 C164.6,545.8 166.2,549.2 175,550 C183.8,550.8 206.7,551 215,550 C223.3,549 223.3,545.2 225,544.2" class="i"/><path d="M215,488.8 C216.7,487.8 217.9,483.6 225,483 C232.1,482.4 250.6,483 257.5,485 C264.4,487 264.1,489.2 266.2,495 C268.4,500.8 270.5,511.7 270.5,520 C270.5,528.3 268.4,539.2 266.2,545 C264.1,550.8 264.4,553.1 257.5,555 C250.6,556.9 232,557 225,556.2 C218,555.5 217.1,551.5 215.5,550.5" class="i"/><path d="M200,498 C202.9,498.2 213.5,497.6 217.5,499 C221.5,500.4 222.5,501.9 223.8,506.2 C225,510.6 225.2,519.4 225,525 C224.8,530.6 226.7,536.9 222.5,540 C218.3,543.1 203.8,543.1 200,543.8" class="i"/><rect x="249.8" y="501.2" width="12.8" height="36" rx="5.8" class="i"/><path d="M275,572 C275,560.8 274.2,519.1 275,505 C275.8,490.9 276.7,491.5 280,487.5 C283.3,483.5 287.9,482.5 295,481.2 C302.1,480 317.9,480.2 322.5,480" class="i"/><path d="M322.5,480 C322.6,478.8 320.3,474.2 323.2,473 C326.2,471.8 333.9,472 340,472.5 C346.1,473 355,473.7 360,476.2 C365,478.8 367.5,484 370,488 C372.5,492 374.2,498 375,500" class="i"/><path d="M322.5,480 C322.9,481.5 322.1,486.2 325,488.8 C327.9,491.2 337.5,494 340,495" class="i"/><path d="M293,500 L293,550" class="i"/><path d="M275,545 C276.2,545.8 270.6,549.4 282.5,550 C294.4,550.6 335.6,549 346.2,548.8" class="i"/><path d="M346.2,500 L346.2,572" class="i"/><path d="M346.2,500.5 L389.2,500.5 L389.2,572" class="i"/><path d="M346.2,556.2 L389.2,556.2" class="i"/><rect x="365.5" y="510" width="17" height="27.5" rx="4" class="i"/></g><path d="M114.4,688.1 C114.7,687.6 115.1,686.2 116.2,685 C117.4,683.8 120.4,681.4 121.2,680.6"/><path d="M121.2,680.6 L125,684 L127.5,685.6 L134.8,685.6"/><path d="M134.8,685.6 C135.2,686.4 136.4,687.4 137.5,690 C138.6,692.6 140,697.8 141.2,701.2 C142.5,704.8 145,709 145.2,711 C145.5,713 144.5,712.7 142.8,713.1 C141,713.5 137.1,713.8 135,713.5 C132.9,713.2 132.1,713.1 130,711.2 C127.9,709.4 124.8,705.4 122.5,702.5 C120.2,699.6 117.6,696.1 116.2,693.8 C114.9,691.4 114.7,689.1 114.4,688.1"/><path d="M392,455 C392,453.2 391.6,453.5 396.2,453.2 C400.9,453 415.3,452.9 420,453.2 C424.7,453.6 422.8,453.6 424.2,455.5 C425.7,457.4 428.4,462.7 428.8,464.5 C429.1,466.3 431,466.2 426.2,466.5 C421.5,466.8 405,466.5 400,466 C395,465.5 397.6,465.6 396.2,463.8 C394.9,461.9 392,456.8 392,455Z"/><rect x="365" y="560" width="20" height="24" rx="4" class="i"/><rect x="383.5" y="564.5" width="32" height="15.5" rx="7.7"/><g class="d"><path d="M211.6,463V555.6M211.6,587V681M325.7,465V555.6M325.7,587V677.7"/></g><g class="a"><path d="M211.6,463l-1.5,5h3zM211.6,681l-1.5,-5h3zM325.7,465l-1.5,5h3zM325.7,677.7l-1.5,-5h3z"/></g><text transform="translate(215.9,571.3) rotate(-90)" textLength="23.5" lengthAdjust="spacingAndGlyphs">1536</text><text transform="translate(330.5,571.6) rotate(-90)" textLength="24" lengthAdjust="spacingAndGlyphs">1497</text></g>
<g id="rear"><g><path d="M856,453.5 C850.6,453.7 836,453.9 823.8,454.6 C811.5,455.3 789.4,457.3 782.5,457.8"/><path d="M782.5,457.8 C781.7,457.6 779.4,456.3 777.8,456.5 C776.2,456.7 774.5,457.5 772.8,459.1 C771,460.8 771.5,460.1 767.5,466.2 C763.5,472.4 754.4,486.9 748.8,496.2 C743.1,505.6 738.4,514.1 733.8,522.5 C729.1,530.9 723.9,540.3 720.6,546.9 C717.3,553.4 715.3,555.7 714.1,561.9 C712.8,568.1 713.2,577.6 713.1,584 C713,590.4 713.5,590.7 713.6,600 C713.7,609.3 713.6,633.3 713.6,640"/><path d="M781.6,457.8 L780.6,469.1"/><path d="M775.9,458.8 C775.3,461.9 773.6,469.7 772.2,477.5 C770.8,485.3 769.5,498.1 767.5,505.6 C765.5,513.1 761.6,518.4 760,522.5 C758.4,526.6 758.1,528.8 757.8,530"/><path d="M768.2,464.4 C767.8,466.4 766.6,472 765.4,476.2 C764.2,480.5 762.8,485.6 761,490 C759.2,494.4 757.2,498.5 754.8,502.5 C752.2,506.5 748.9,510.6 746,513.8 C743.1,516.9 739.5,519.1 737.2,521.2 C735,523.4 733.1,525.6 732.2,526.5"/><path d="M856,464 C850.6,464.2 836,464.6 823.8,465.3 C811.5,466 789.4,467.7 782.5,468.1"/><path d="M856,471.9 L831.2,471.9 L828.4,469.1"/><path d="M828.4,469.1 C824.5,469.2 812,469.3 805,469.6 C798,469.9 790.9,470.1 786.2,470.9 C781.6,471.8 778.4,474.1 776.9,474.7"/><path d="M776.9,474.7 C775.9,478 773,488.3 771.2,494.4 C769.5,500.5 767.3,508.4 766.6,511.2"/><path d="M856,481.2 C850.6,481.2 834.8,481.2 823.8,481.2 C812.8,481.3 796.9,480.8 790,481.6 C783.1,482.4 784.5,482.9 782.5,485.9 C780.5,489 779.2,495.6 777.8,500 C776.4,504.4 774.7,510.2 774.1,512.2"/><path d="M856,518 C850.6,518 832.2,518 823.8,517.8 C815.2,517.6 811.2,517.4 805,516.9 C798.8,516.3 791.4,515.2 786.2,514.4 C781.1,513.7 777.3,512.8 774.1,512.2 C770.8,511.6 767.8,511.1 766.6,510.9"/><path d="M856,524.8 C847.5,524.8 821,524.7 805,524.8 C789,524.8 769.4,524.9 760,525.3 C750.6,525.7 751.6,526.5 748.8,527.2 C745.9,527.9 743.8,529.1 742.8,529.4"/><path d="M745,533.8 L767.5,535.1 L799.4,536.8 L805,539.8 L811.6,544.4 L809.1,548.8 L805,550.6 L735.6,550.6 L733.4,546.9 L739,532.2 L742.8,529.4 L745,533.8"/><path d="M760,522.5 C759.6,524.4 757.1,528.1 757.8,533.8 C758.4,539.4 761.2,549.7 763.8,556.2 C766.3,562.8 769.4,568.5 773.1,573.1 C776.9,577.8 783.4,582.2 786.2,584 C789.1,585.8 786.9,583.5 790,583.8 C793.1,584 794,585 805,585.2 C816,585.5 847.7,585.2 856.2,585.2"/><path d="M856,544.6 L811.6,544.6"/><path d="M735.6,512.2 C733.8,511.4 728.4,508.1 724.4,507.5 C720.3,506.9 715,507.3 711.2,508.4 C707.5,509.5 703.3,511.4 701.9,514.1 C700.5,516.7 701.2,521.9 702.8,524.4 C704.4,526.9 706.7,528.1 711.2,529.1 C715.8,530 726.9,529.8 730,530"/><path d="M735.6,512.2 C735.4,512.7 735.2,514.6 734.1,515.4 C733,516.2 729.9,515.2 729.1,516.9 C728.2,518.5 728.1,524.2 729.1,525.3 C730,526.4 733.8,523.8 734.7,523.4"/><path d="M746.9,562.8 C745,563.1 739.1,562.7 735.6,564.7 C732.2,566.7 728,573.1 726.2,575 C724.5,576.9 725.2,576 725,576.2"/><path d="M725,576.5 C725.4,576.6 726.4,576.5 727.5,577 C728.6,577.5 730.8,579.1 731.5,579.5 L731.5,579.5 C731.9,582.1 733.3,589.4 734,595 C734.7,600.6 735.5,610 735.8,613 L735.8,613 C735,612.5 732.4,611 731.2,610 C730.1,609 729.5,609.9 728.8,607 C728,604.1 727.1,597.6 726.5,592.5 C725.9,587.4 725.2,579.2 725,576.5Z"/><path d="M740.3,518.8 C738.6,522.5 734.2,531.6 730,541.2 C725.8,550.9 717.5,570.9 715,576.9"/><path d="M735.6,528.1 C734.4,532.2 730.6,543.4 728.1,552.5 C725.6,561.6 721.9,577.5 720.6,582.5"/><path d="M715,591 C715.1,594.8 714.9,606.8 715.8,613.5 C716.6,620.2 718,625.8 720,631 C722,636.2 726.2,642.5 727.5,644.8"/><path d="M727.5,641.5 L762.5,597.2 L826.2,597.2"/><path d="M826.2,597.2 C826.9,597.9 828.5,598.3 830,601 C831.5,603.7 833.1,608.5 835,613.5 C836.9,618.5 840.2,628.1 841.2,631"/><path d="M841.2,631 L800,631 L799.5,613.5 L797.5,609 L765,609 L757.5,616 L757.5,632.2 L727.5,645.2"/><path d="M841.2,622.2 L856.5,622.2"/><path d="M841.2,629.8 L856.5,629.8"/><path d="M759.2,644 L856.5,644"/><path d="M759.2,654 L856.5,654"/><circle cx="769.5" cy="626.8" r="6.6"/><circle cx="785.5" cy="626.8" r="6.6"/><path d="M713.6,600V668Q713.6,676.6 722,676.6H750.5Q758.8,676.6 758.8,668V632.5"/></g><g transform="translate(1712,0) scale(-1,1)"><path d="M856,453.5 C850.6,453.7 836,453.9 823.8,454.6 C811.5,455.3 789.4,457.3 782.5,457.8"/><path d="M782.5,457.8 C781.7,457.6 779.4,456.3 777.8,456.5 C776.2,456.7 774.5,457.5 772.8,459.1 C771,460.8 771.5,460.1 767.5,466.2 C763.5,472.4 754.4,486.9 748.8,496.2 C743.1,505.6 738.4,514.1 733.8,522.5 C729.1,530.9 723.9,540.3 720.6,546.9 C717.3,553.4 715.3,555.7 714.1,561.9 C712.8,568.1 713.2,577.6 713.1,584 C713,590.4 713.5,590.7 713.6,600 C713.7,609.3 713.6,633.3 713.6,640"/><path d="M781.6,457.8 L780.6,469.1"/><path d="M775.9,458.8 C775.3,461.9 773.6,469.7 772.2,477.5 C770.8,485.3 769.5,498.1 767.5,505.6 C765.5,513.1 761.6,518.4 760,522.5 C758.4,526.6 758.1,528.8 757.8,530"/><path d="M768.2,464.4 C767.8,466.4 766.6,472 765.4,476.2 C764.2,480.5 762.8,485.6 761,490 C759.2,494.4 757.2,498.5 754.8,502.5 C752.2,506.5 748.9,510.6 746,513.8 C743.1,516.9 739.5,519.1 737.2,521.2 C735,523.4 733.1,525.6 732.2,526.5"/><path d="M856,464 C850.6,464.2 836,464.6 823.8,465.3 C811.5,466 789.4,467.7 782.5,468.1"/><path d="M856,471.9 L831.2,471.9 L828.4,469.1"/><path d="M828.4,469.1 C824.5,469.2 812,469.3 805,469.6 C798,469.9 790.9,470.1 786.2,470.9 C781.6,471.8 778.4,474.1 776.9,474.7"/><path d="M776.9,474.7 C775.9,478 773,488.3 771.2,494.4 C769.5,500.5 767.3,508.4 766.6,511.2"/><path d="M856,481.2 C850.6,481.2 834.8,481.2 823.8,481.2 C812.8,481.3 796.9,480.8 790,481.6 C783.1,482.4 784.5,482.9 782.5,485.9 C780.5,489 779.2,495.6 777.8,500 C776.4,504.4 774.7,510.2 774.1,512.2"/><path d="M856,518 C850.6,518 832.2,518 823.8,517.8 C815.2,517.6 811.2,517.4 805,516.9 C798.8,516.3 791.4,515.2 786.2,514.4 C781.1,513.7 777.3,512.8 774.1,512.2 C770.8,511.6 767.8,511.1 766.6,510.9"/><path d="M856,524.8 C847.5,524.8 821,524.7 805,524.8 C789,524.8 769.4,524.9 760,525.3 C750.6,525.7 751.6,526.5 748.8,527.2 C745.9,527.9 743.8,529.1 742.8,529.4"/><path d="M745,533.8 L767.5,535.1 L799.4,536.8 L805,539.8 L811.6,544.4 L809.1,548.8 L805,550.6 L735.6,550.6 L733.4,546.9 L739,532.2 L742.8,529.4 L745,533.8"/><path d="M760,522.5 C759.6,524.4 757.1,528.1 757.8,533.8 C758.4,539.4 761.2,549.7 763.8,556.2 C766.3,562.8 769.4,568.5 773.1,573.1 C776.9,577.8 783.4,582.2 786.2,584 C789.1,585.8 786.9,583.5 790,583.8 C793.1,584 794,585 805,585.2 C816,585.5 847.7,585.2 856.2,585.2"/><path d="M856,544.6 L811.6,544.6"/><path d="M735.6,512.2 C733.8,511.4 728.4,508.1 724.4,507.5 C720.3,506.9 715,507.3 711.2,508.4 C707.5,509.5 703.3,511.4 701.9,514.1 C700.5,516.7 701.2,521.9 702.8,524.4 C704.4,526.9 706.7,528.1 711.2,529.1 C715.8,530 726.9,529.8 730,530"/><path d="M735.6,512.2 C735.4,512.7 735.2,514.6 734.1,515.4 C733,516.2 729.9,515.2 729.1,516.9 C728.2,518.5 728.1,524.2 729.1,525.3 C730,526.4 733.8,523.8 734.7,523.4"/><path d="M746.9,562.8 C745,563.1 739.1,562.7 735.6,564.7 C732.2,566.7 728,573.1 726.2,575 C724.5,576.9 725.2,576 725,576.2"/><path d="M725,576.5 C725.4,576.6 726.4,576.5 727.5,577 C728.6,577.5 730.8,579.1 731.5,579.5 L731.5,579.5 C731.9,582.1 733.3,589.4 734,595 C734.7,600.6 735.5,610 735.8,613 L735.8,613 C735,612.5 732.4,611 731.2,610 C730.1,609 729.5,609.9 728.8,607 C728,604.1 727.1,597.6 726.5,592.5 C725.9,587.4 725.2,579.2 725,576.5Z"/><path d="M740.3,518.8 C738.6,522.5 734.2,531.6 730,541.2 C725.8,550.9 717.5,570.9 715,576.9"/><path d="M735.6,528.1 C734.4,532.2 730.6,543.4 728.1,552.5 C725.6,561.6 721.9,577.5 720.6,582.5"/><path d="M715,591 C715.1,594.8 714.9,606.8 715.8,613.5 C716.6,620.2 718,625.8 720,631 C722,636.2 726.2,642.5 727.5,644.8"/><path d="M727.5,641.5 L762.5,597.2 L826.2,597.2"/><path d="M826.2,597.2 C826.9,597.9 828.5,598.3 830,601 C831.5,603.7 833.1,608.5 835,613.5 C836.9,618.5 840.2,628.1 841.2,631"/><path d="M841.2,631 L800,631 L799.5,613.5 L797.5,609 L765,609 L757.5,616 L757.5,632.2 L727.5,645.2"/><path d="M841.2,622.2 L856.5,622.2"/><path d="M841.2,629.8 L856.5,629.8"/><path d="M759.2,644 L856.5,644"/><path d="M759.2,654 L856.5,654"/><circle cx="769.5" cy="626.8" r="6.6"/><circle cx="785.5" cy="626.8" r="6.6"/><path d="M713.6,600V668Q713.6,676.6 722,676.6H750.5Q758.8,676.6 758.8,668V632.5"/></g><path d="M848,460.5 C848.8,459.9 851.2,457.9 852.5,457 C853.8,456.1 854.4,455 855.5,455 C856.6,455 857.6,456.1 859,457 C860.4,457.9 863,459.9 863.8,460.5"/><path d="M848,460.5 L850,462.5 L862,462.5 L863.8,460.5"/><circle cx="856.2" cy="533.8" r="6.5" style="fill:#3c3c3c;stroke:#444"/><circle cx="856.2" cy="533.8" r="4" style="fill:#eee;stroke:none"/><path d="M856.2,533.8V529.8A4,4 0 0 0 852.2,533.8ZM856.2,533.8V537.8A4,4 0 0 0 860.2,533.8Z" style="fill:#555;stroke:none"/><g class="d"><path d="M699.5,677.2H1012.5M699.5,677.2V731M1012.5,677.2V731M736.2,677.2V705M975.8,677.2V705M736.2,704H838.8M872,704H975.8M699.5,730.6H838.8M872,730.6H1012.5"/></g><g class="a"><path d="M736.2,704l5,-1.6v3.2zM975.8,704l-5,-1.6v3.2zM699.5,730.6l5,-1.6v3.2zM1012.5,730.6l-5,-1.6v3.2z"/></g><text x="855.5" y="708.6" textLength="25" lengthAdjust="spacingAndGlyphs">1660</text><text x="855.5" y="735.4" textLength="25" lengthAdjust="spacingAndGlyphs">2156</text></g>
</svg>
</body></html>
